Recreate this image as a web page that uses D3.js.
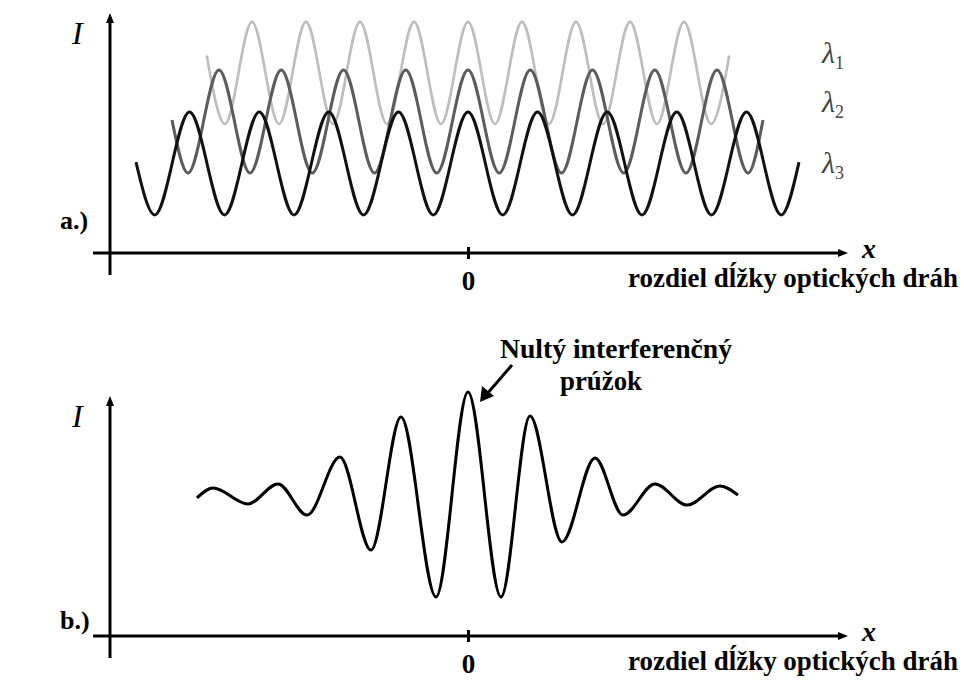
<!DOCTYPE html>
<html>
<head>
<meta charset="utf-8">
<script src="https://cdn.jsdelivr.net/npm/d3@7"></script>
<style>
  body { margin: 0; background: #fff; }
  text { font-family: "Liberation Serif", "Times New Roman", "DejaVu Serif", serif; }
</style>
</head>
<body>
<svg width="964" height="681"></svg>
<script>
// values: [path difference x, intensity I] at the turning points
var lambda1 = [[-10.45, 8.3], [-9.72, 5.42], [-8.64, 9.71], [-7.56, 5.42], [-6.48, 9.71], [-5.40, 5.42],
    [-4.32, 9.71], [-3.24, 5.42], [-2.16, 9.71], [-1.08, 5.42], [0, 9.71], [1.08, 5.42], [2.16, 9.71],
    [3.24, 5.42], [4.32, 9.71], [5.40, 5.42], [6.48, 9.71], [7.56, 5.42], [8.64, 9.71], [9.72, 5.42], [10.45, 8.3]];

var lambda2 = [[-11.84, 5.59], [-11.2, 3.36], [-9.96, 7.69], [-8.72, 3.36], [-7.47, 7.69], [-6.23, 3.36],
    [-4.98, 7.69], [-3.74, 3.36], [-2.49, 7.69], [-1.25, 3.36], [0, 7.69], [1.25, 3.36], [2.49, 7.69],
    [3.74, 3.36], [4.98, 7.69], [6.23, 3.36], [7.47, 7.69], [8.72, 3.36], [9.96, 7.69], [11.2, 3.36], [11.8, 5.59]];

var lambda3 = [[-13.28, 3.82], [-12.53, 1.6], [-11.14, 5.92], [-9.74, 1.6], [-8.35, 5.92], [-6.96, 1.6],
    [-5.57, 5.92], [-4.18, 1.6], [-2.78, 5.92], [-1.39, 1.6], [0, 5.92], [1.39, 1.6], [2.78, 5.92],
    [4.18, 1.6], [5.57, 5.92], [6.96, 1.6], [8.35, 5.92], [9.74, 1.6], [11.14, 5.92], [12.53, 1.6], [13.24, 3.82]];

var sumWave = [[-10.84, 5.8], [-10.2, 6.22], [-8.8, 5.55], [-7.6, 6.39], [-6.44, 5.08], [-5.12, 7.52],
    [-3.88, 3.61], [-2.68, 9.2], [-1.28, 1.64], [0, 10.25], [1.32, 1.64], [2.48, 9.24], [3.76, 3.95],
    [5.08, 7.48], [6.2, 5.08], [7.48, 6.39], [8.76, 5.5], [10.08, 6.3], [10.8, 5.92]];

var waveNames = ["λ1", "λ2", "λ3"];
var waveColors = ["#bdbdbd", "#5c5c5c", "#111"];
var tickValues = [0];
var xTitle = "rozdiel dĺžky optických dráh";
var peakNote = ["Nultý interferenčný", "prúžok"];

var svg = d3.select("svg");

var x = d3.scaleLinear().domain([-15, 15.2]).range([93, 848]);
var yTop = d3.scaleLinear().domain([0, 10]).range([253, 15]);
var yBot = d3.scaleLinear().domain([0, 10]).range([636, 398]);

function drawFrame(y, panelLabel, labelY) {
    var g = svg.append("g");
    var y0 = y(0), yAxisX = 110;

    // y axis, runs a bit below the x axis
    g.append("line")
        .attr("x1", yAxisX).attr("x2", yAxisX)
        .attr("y1", y0 + 22).attr("y2", y(10) + 4)
        .attr("stroke", "#000").attr("stroke-width", 3);
    g.append("path")
        .attr("d", "M" + (yAxisX - 4) + "," + (y(10) + 8) + "L" + yAxisX + "," + (y(10) - 2) + "L" + (yAxisX + 4) + "," + (y(10) + 8) + "Z")
        .attr("fill", "#000");

    // x axis
    var axis = d3.axisBottom(x).tickValues(tickValues).tickSize(6).tickSizeOuter(0).tickPadding(12)
        .tickFormat(d3.format("d"));
    var ax = g.append("g").attr("transform", "translate(0," + y0 + ")").call(axis);
    ax.select(".domain").attr("stroke-width", 3).attr("d", "M" + x.range()[0] + ",0H" + (x.range()[1] - 6));
    ax.selectAll(".tick line").attr("y1", -6).attr("stroke-width", 3);
    ax.selectAll(".tick text").attr("font-weight", "bold")
        .style("font-size", "27px").attr("fill", "#000");
    g.append("path")
        .attr("d", "M" + (x.range()[1] - 10) + "," + (y0 - 4) + "L" + x.range()[1] + "," + y0 + "L" + (x.range()[1] - 10) + "," + (y0 + 4) + "Z")
        .attr("fill", "#000");

    g.append("text").attr("x", 862).attr("y", y0 + 5)
        .attr("font-size", 28).attr("font-style", "italic").attr("font-weight", "bold").text("x");
    g.append("text").attr("x", 628).attr("y", y0 + 34)
        .attr("font-size", 27).attr("font-weight", "bold")
        .attr("textLength", 330).attr("lengthAdjust", "spacingAndGlyphs").text(xTitle);
    g.append("text").attr("x", 72).attr("y", y(10) + 29)
        .attr("font-size", 32).attr("font-style", "italic").text("I");
    g.append("text").attr("x", 60).attr("y", labelY)
        .attr("font-size", 26).attr("font-weight", "bold").text(panelLabel);
    return g;
}

drawFrame(yTop, "a.)", 229);
drawFrame(yBot, "b.)", 629);

var lineTop = d3.line()
    .x(function(d) { return x(d[0]); })
    .y(function(d) { return yTop(d[1]); })
    .curve(d3.curveMonotoneX);

var lineBot = d3.line()
    .x(function(d) { return x(d[0]); })
    .y(function(d) { return yBot(d[1]); })
    .curve(d3.curveMonotoneX);

svg.selectAll(".wave")
    .data([lambda1, lambda2, lambda3])
    .enter().append("path")
    .attr("class", "wave")
    .attr("d", lineTop)
    .attr("fill", "none")
    .attr("stroke", function(d, i) { return waveColors[i]; })
    .attr("stroke-width", function(d, i) { return i == 0 ? 2.6 : 3; });

// wavelength labels
var labelY = [63, 112, 173];
var lab = svg.selectAll(".lam")
    .data(waveNames)
    .enter().append("text")
    .attr("class", "lam")
    .attr("x", 822)
    .attr("y", function(d, i) { return labelY[i]; })
    .attr("fill", "#444")
    .attr("font-size", 30)
    .attr("font-style", "italic");
lab.append("tspan").text(function(d) { return d.charAt(0); });
lab.append("tspan").attr("dy", 6).attr("font-size", 18).attr("font-style", "normal")
    .text(function(d) { return d.slice(1); });

svg.append("path")
    .attr("d", lineBot(sumWave))
    .attr("fill", "none")
    .attr("stroke", "#000")
    .attr("stroke-width", 3);

// annotation of the central fringe
svg.append("line")
    .attr("x1", 512).attr("y1", 365).attr("x2", 487).attr("y2", 394)
    .attr("stroke", "#000").attr("stroke-width", 3);
svg.append("path")
    .attr("d", "M480,402L482,386L494,396Z")
    .attr("fill", "#000");
svg.append("text").attr("x", 500).attr("y", 358)
    .attr("font-size", 27).attr("font-weight", "bold")
    .attr("textLength", 232).attr("lengthAdjust", "spacingAndGlyphs").text(peakNote[0]);
svg.append("text").attr("x", 560).attr("y", 390)
    .attr("font-size", 27).attr("font-weight", "bold")
    .attr("textLength", 82).attr("lengthAdjust", "spacingAndGlyphs").text(peakNote[1]);
</script>
</body>
</html>
